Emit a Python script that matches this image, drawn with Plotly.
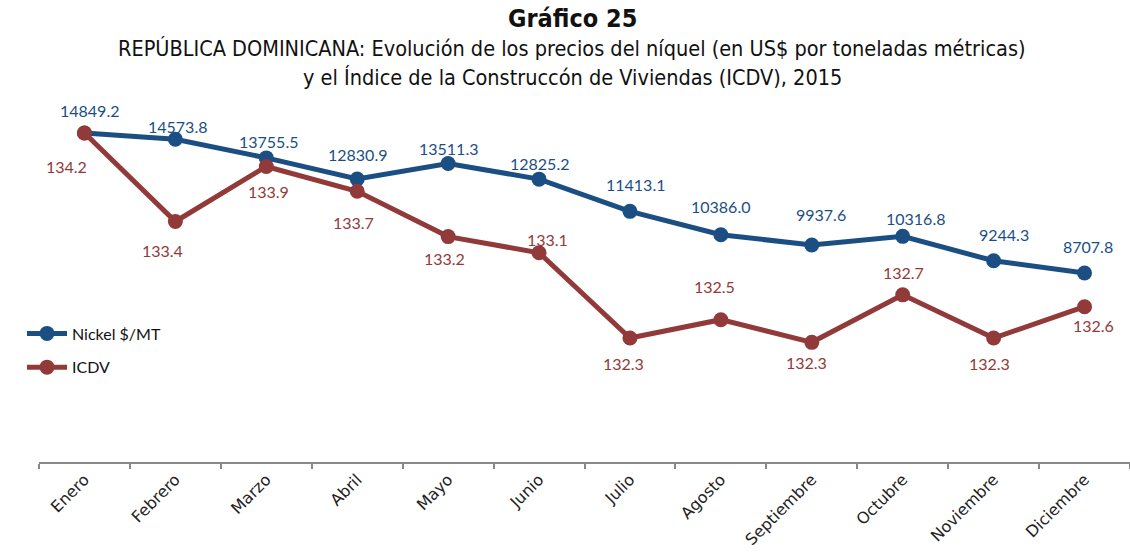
import plotly.graph_objects as go

months = ["Enero", "Febrero", "Marzo", "Abril", "Mayo", "Junio", "Julio",
          "Agosto", "Septiembre", "Octubre", "Noviembre", "Diciembre"]
nickel = [14849.2, 14573.8, 13755.5, 12830.9, 13511.3, 12825.2, 11413.1,
          10386.0, 9937.6, 10316.8, 9244.3, 8707.8]
icdv = [134.20, 133.38, 133.89, 133.66, 133.24, 133.09, 132.30,
        132.47, 132.26, 132.70, 132.30, 132.59]

BLUE = "#1B4F84"
RED = "#923A3A"
LABEL_FONT = "Lato, Open Sans, sans-serif"

# label placement (pixel offsets from each point), style only
nickel_dx = [5, 2, 2, 0, 0, 0, 6, 0, 9, 13, 10, 3]
nickel_dy = [22, 13, 16, 25, 15, 16, 27, 28, 30, 18, 26, 27]
icdv_dx = [-18, -13, 2, -4, -4, 8, -6, -6, -5, 1, -4, 9]
icdv_dy = [-33, -29, -25, -31, -22, 13, -25, 33, -20, 22, -25, -19]

fig = go.Figure()
fig.add_trace(go.Scatter(
    x=months, y=nickel, name="Nickel $/MT", mode="lines+markers",
    line=dict(color=BLUE, width=5), marker=dict(color=BLUE, size=15),
    cliponaxis=False, legendgroup="a", yaxis="y"))
fig.add_trace(go.Scatter(
    x=months, y=icdv, name="ICDV", mode="lines+markers",
    line=dict(color=RED, width=5), marker=dict(color=RED, size=15),
    cliponaxis=False, legendgroup="b", yaxis="y2"))

annotations = []
for m, v, dx, dy in zip(months, nickel, nickel_dx, nickel_dy):
    annotations.append(dict(x=m, y=v, xref="x", yref="y", text=f"{v:.1f}",
                            showarrow=False, xshift=dx, yshift=dy,
                            font=dict(family=LABEL_FONT, size=16, color=BLUE)))
for m, v, dx, dy in zip(months, icdv, icdv_dx, icdv_dy):
    annotations.append(dict(x=m, y=v, xref="x", yref="y2", text=f"{v:.1f}",
                            showarrow=False, xshift=dx, yshift=dy,
                            font=dict(family=LABEL_FONT, size=16, color=RED)))

title_font = "Liberation Sans Narrow, DejaVu Sans Condensed, Arial Narrow, sans-serif"
titles = [
    dict(text="<b>Gráfico 25</b>", y=1.2265, size=25),
    dict(text="REPÚBLICA DOMINICANA: Evolución de los precios del níquel (en US$ por toneladas métricas)", y=1.1436, size=21.5),
    dict(text="y el Índice de la Construccón de Viviendas (ICDV), 2015", y=1.0608, size=21.5),
]
for a in titles:
    annotations.append(dict(text=a["text"], x=572 / 1130, y=a["y"], xref="paper", yref="paper",
                            showarrow=False, xanchor="center", yanchor="middle",
                            font=dict(family=title_font, size=a["size"], color="#111")))

fig.update_layout(
    width=1130, height=552,
    margin=dict(l=0, r=0, t=100, b=90, autoexpand=False),
    paper_bgcolor="white", plot_bgcolor="white",
    showlegend=True,
    legend=dict(x=22 / 1130, y=0.402, xanchor="left", yanchor="top",
                font=dict(family=LABEL_FONT, size=16, color="#111"),
                traceorder="grouped", tracegroupgap=10, bgcolor="rgba(0,0,0,0)",
                itemwidth=40),
    annotations=annotations,
    xaxis=dict(type="category", domain=[39 / 1130, 1], range=[-0.5, 11.5],
               showgrid=False, showline=True,
               linecolor="#888", linewidth=2, ticks="outside", tickcolor="#888",
               ticklen=5, tickwidth=1.5, tickson="boundaries", tickangle=-45,
               tickfont=dict(family="DejaVu Sans, sans-serif", size=16, color="#222"),
               zeroline=False, automargin=False),
    yaxis=dict(range=[419, 16296], visible=False, showgrid=False, zeroline=False),
    yaxis2=dict(range=[131.151, 134.506], overlaying="y", side="right",
                visible=False, showgrid=False, zeroline=False),
)

fig.write_html("out.html", config={"displayModeBar": False},
               post_script="document.body.style.margin='0';")
